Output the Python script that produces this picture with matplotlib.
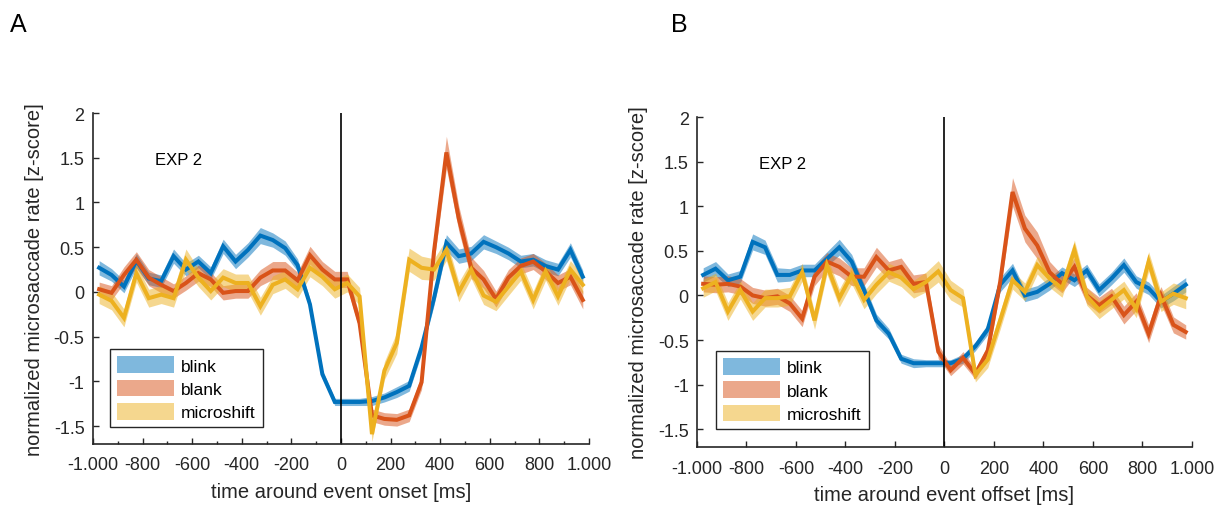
import numpy as np
import matplotlib
matplotlib.use("Agg")
import matplotlib.pyplot as plt
from matplotlib.patches import Patch
from matplotlib.ticker import MultipleLocator

plt.rcParams['font.family'] = ['Liberation Sans', 'DejaVu Sans']
plt.rcParams['axes.unicode_minus'] = False

# bin centres, 50 ms bins
t = np.arange(-975, 1000, 50)

conditions = ['blink', 'blank', 'microshift']
colors = ['#0072BD', '#D95319', '#EDB120']

# panel A: aligned to event onset (mean and SEM, z-score)
blink_a = [0.27, 0.19, 0.06, 0.35, 0.15, 0.12, 0.40, 0.25, 0.34, 0.21,
           0.51, 0.34, 0.47, 0.63, 0.58, 0.49, 0.30, -0.14, -0.92, -1.23,
           -1.23, -1.23, -1.22, -1.18, -1.12, -1.05, -0.62, -0.07, 0.55, 0.40,
           0.43, 0.56, 0.50, 0.43, 0.34, 0.36, 0.29, 0.25, 0.47, 0.17]
blank_a = [0.03, -0.01, 0.19, 0.36, 0.16, 0.08, 0.01, 0.10, 0.21, 0.14,
           -0.01, 0.01, 0.01, 0.16, 0.24, 0.24, 0.13, 0.41, 0.25, 0.14,
           0.14, -0.35, -1.38, -1.42, -1.43, -1.38, -1.01, 0.45, 1.56, 0.82,
           0.27, 0.14, -0.08, 0.16, 0.29, 0.34, 0.23, 0.10, 0.17, -0.09]
micro_a = [-0.03, -0.10, -0.29, 0.21, -0.07, -0.03, -0.07, 0.36, 0.16, 0.01,
           0.16, 0.10, 0.10, -0.16, 0.08, 0.14, 0.03, 0.27, 0.17, 0.03,
           0.10, -0.05, -1.59, -0.88, -0.57, 0.36, 0.27, 0.25, 0.47, 0.00,
           0.25, -0.04, -0.11, 0.06, 0.23, -0.09, 0.23, -0.05, 0.25, 0.08]
blink_a_sem = [0.08, 0.07, 0.07, 0.08, 0.07, 0.07, 0.08, 0.07, 0.07, 0.07,
               0.08, 0.08, 0.08, 0.09, 0.08, 0.08, 0.07, 0.06, 0.05, 0.04,
               0.04, 0.04, 0.05, 0.05, 0.06, 0.06, 0.07, 0.08, 0.09, 0.08,
               0.08, 0.08, 0.07, 0.07, 0.07, 0.07, 0.07, 0.07, 0.08, 0.07]
blank_a_sem = [0.08, 0.08, 0.09, 0.09, 0.09, 0.09, 0.08, 0.08, 0.09, 0.08,
               0.08, 0.08, 0.08, 0.09, 0.10, 0.10, 0.09, 0.10, 0.09, 0.09,
               0.09, 0.08, 0.07, 0.07, 0.07, 0.07, 0.08, 0.12, 0.18, 0.14,
               0.12, 0.10, 0.09, 0.09, 0.09, 0.09, 0.09, 0.09, 0.09, 0.10]
micro_a_sem = [0.10, 0.10, 0.10, 0.10, 0.10, 0.10, 0.10, 0.12, 0.10, 0.10,
               0.10, 0.10, 0.10, 0.10, 0.10, 0.10, 0.10, 0.10, 0.10, 0.10,
               0.10, 0.10, 0.08, 0.10, 0.12, 0.13, 0.13, 0.12, 0.12, 0.11,
               0.10, 0.10, 0.10, 0.10, 0.10, 0.10, 0.10, 0.10, 0.10, 0.10]

# panel B: aligned to event offset
blink_b = [0.23, 0.30, 0.17, 0.21, 0.60, 0.54, 0.23, 0.23, 0.28, 0.28,
           0.41, 0.54, 0.38, 0.06, -0.28, -0.43, -0.71, -0.76, -0.76, -0.76,
           -0.76, -0.71, -0.57, -0.38, 0.12, 0.28, 0.00, 0.04, 0.13, 0.25,
           0.17, 0.28, 0.06, 0.19, 0.34, 0.15, 0.08, -0.07, 0.02, 0.12]
blank_b = [0.13, 0.12, 0.13, 0.10, 0.00, -0.03, -0.01, -0.09, -0.26, 0.21,
           0.38, 0.32, 0.21, 0.21, 0.43, 0.28, 0.32, 0.13, 0.15, -0.63,
           -0.84, -0.70, -0.88, -0.62, 0.15, 1.16, 0.75, 0.56, 0.26, 0.13,
           0.32, 0.00, -0.11, -0.01, -0.22, -0.07, -0.43, 0.00, -0.33, -0.41]
micro_b = [0.08, 0.15, -0.18, 0.06, -0.18, -0.03, -0.03, -0.01, 0.26, -0.28,
           0.34, -0.03, 0.23, -0.05, 0.12, 0.26, 0.20, 0.07, 0.15, 0.27,
           0.06, -0.03, -0.89, -0.72, -0.28, 0.17, 0.04, 0.34, 0.19, 0.08,
           0.51, -0.01, -0.16, -0.05, 0.06, -0.15, 0.38, -0.07, 0.02, -0.03]
blink_b_sem = [0.08, 0.08, 0.07, 0.07, 0.09, 0.08, 0.08, 0.07, 0.07, 0.07,
               0.08, 0.09, 0.08, 0.07, 0.07, 0.06, 0.05, 0.05, 0.04, 0.04,
               0.04, 0.05, 0.05, 0.06, 0.08, 0.08, 0.07, 0.07, 0.07, 0.07,
               0.07, 0.07, 0.07, 0.07, 0.08, 0.07, 0.07, 0.07, 0.08, 0.08]
blank_b_sem = [0.09, 0.09, 0.09, 0.09, 0.09, 0.09, 0.09, 0.09, 0.09, 0.10,
               0.10, 0.10, 0.10, 0.10, 0.11, 0.10, 0.10, 0.10, 0.10, 0.08,
               0.06, 0.07, 0.06, 0.07, 0.10, 0.16, 0.15, 0.15, 0.12, 0.10,
               0.10, 0.09, 0.09, 0.09, 0.10, 0.10, 0.10, 0.10, 0.09, 0.08]
micro_b_sem = [0.10, 0.10, 0.10, 0.10, 0.10, 0.10, 0.10, 0.10, 0.10, 0.10,
               0.10, 0.10, 0.10, 0.10, 0.10, 0.10, 0.10, 0.10, 0.11, 0.12,
               0.11, 0.10, 0.08, 0.09, 0.10, 0.10, 0.10, 0.10, 0.10, 0.10,
               0.11, 0.10, 0.10, 0.10, 0.10, 0.10, 0.11, 0.11, 0.12, 0.12]

panel_a = [(blink_a, blink_a_sem), (blank_a, blank_a_sem), (micro_a, micro_a_sem)]
panel_b = [(blink_b, blink_b_sem), (blank_b, blank_b_sem), (micro_b, micro_b_sem)]

xtick_vals = list(range(-1000, 1001, 200))
xtick_labels = ['-1.000', '-800', '-600', '-400', '-200', '0',
                '200', '400', '600', '800', '1.000']
ytick_vals = [-1.5, -1, -0.5, 0, 0.5, 1, 1.5, 2]
ytick_labels = ['-1.5', '-1', '-0.5', '0', '0.5', '1', '1.5', '2']

axcol = '#262626'


def draw_panel(ax, series, xlabel, minor, leg_anchor):
    for (m, s), c in zip(series, colors):
        m = np.array(m)
        s = np.array(s)
        ax.fill_between(t, m - s, m + s, color=c, alpha=0.5, lw=0)
        ax.plot(t, m, color=c, lw=2.9, solid_joinstyle='miter')
    ax.plot([0, 0], [-1.7, 2], color='black', lw=1.2)
    ax.set_xlim(-1000, 1000)
    ax.set_ylim(-1.7, 2)
    ax.set_xticks(xtick_vals)
    ax.set_xticklabels(xtick_labels)
    ax.set_yticks(ytick_vals)
    ax.set_yticklabels(ytick_labels)
    if minor:
        ax.xaxis.set_minor_locator(MultipleLocator(100))
    ax.tick_params(direction='in', length=4, width=1, colors=axcol,
                   labelsize=13, labelcolor='#262626', pad=6)
    ax.tick_params(axis='x', pad=9)
    ax.tick_params(which='minor', direction='in', length=2.5, width=1,
                   colors=axcol)
    for side in ['top', 'right']:
        ax.spines[side].set_visible(False)
    for side in ['left', 'bottom']:
        ax.spines[side].set_color(axcol)
        ax.spines[side].set_linewidth(1.2)
    ax.set_xlabel(xlabel, fontsize=14.5, color='#262626', labelpad=6)
    ax.set_ylabel('normalized microsaccade rate [z-score]', fontsize=14.5,
                  color='#262626', labelpad=7)
    ax.text(-750, 1.48, 'EXP 2', fontsize=12, va='center', ha='left')
    handles = [Patch(facecolor=c, alpha=0.5, edgecolor='none') for c in colors]
    leg = ax.legend(handles, conditions, loc='lower left',
                    bbox_to_anchor=leg_anchor, fontsize=12.5, frameon=True,
                    fancybox=False, edgecolor='#262626', framealpha=1,
                    handlelength=3.3, handleheight=1.1, handletextpad=0.4,
                    labelspacing=0.35, borderpad=0.4, borderaxespad=0)
    leg.get_frame().set_linewidth(1.0)


fig = plt.figure(figsize=(12.23, 5.06), dpi=100)
ax_a = fig.add_axes([0.076, 0.1206, 0.4056, 0.654])
ax_b = fig.add_axes([0.5699, 0.1146, 0.4047, 0.652])

draw_panel(ax_a, panel_a, 'time around event onset [ms]', True, (0.034, 0.051))
draw_panel(ax_b, panel_b, 'time around event offset [ms]', False, (0.038, 0.055))

fig.text(0.008, 0.95, 'A', fontsize=18, va='center', ha='left')
fig.text(0.549, 0.95, 'B', fontsize=18, va='center', ha='left')

fig.savefig('out.png', dpi=100)
